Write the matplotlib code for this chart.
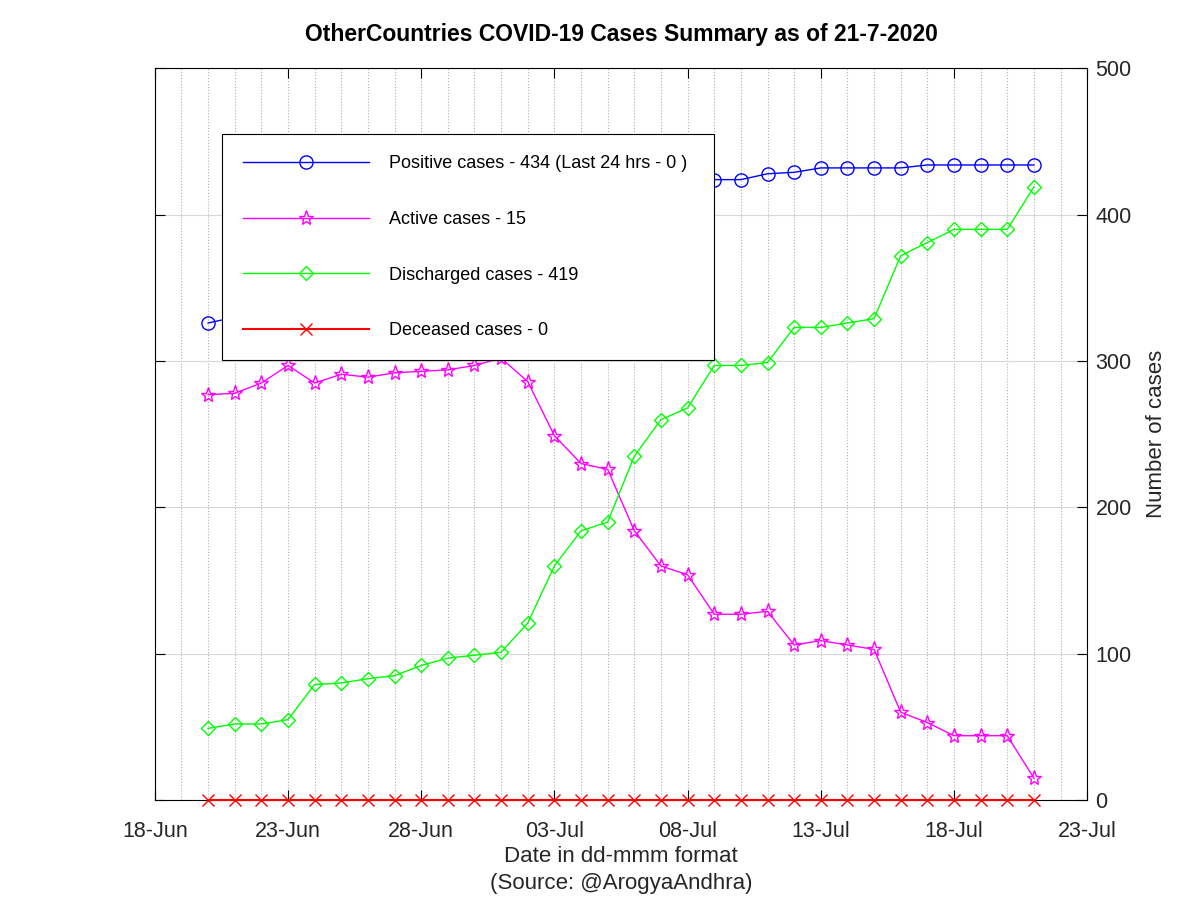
import matplotlib
matplotlib.use('Agg')
import matplotlib.pyplot as plt
import matplotlib.dates as mdates
import pandas as pd

plt.rcParams['font.family'] = ['Liberation Sans', 'DejaVu Sans']

dates = pd.date_range('2020-06-20', '2020-07-21', freq='D')

positive = [326, 330, 337, 352, 364, 371, 372, 377, 385, 391, 396, 403, 407, 409, 414, 416,
            419, 420, 422, 424, 424, 428, 429, 432, 432, 432, 432, 434, 434, 434, 434, 434]
active = [277, 278, 285, 297, 285, 291, 289, 292, 293, 294, 297, 302, 286, 249, 230, 226,
          184, 160, 154, 127, 127, 129, 106, 109, 106, 103, 60, 53, 44, 44, 44, 15]
discharged = [49, 52, 52, 55, 79, 80, 83, 85, 92, 97, 99, 101, 121, 160, 184, 190,
              235, 260, 268, 297, 297, 299, 323, 323, 326, 329, 372, 381, 390, 390, 390, 419]
deceased = [0] * 32

labels = ['Positive cases - 434 (Last 24 hrs - 0 )', 'Active cases - 15',
          'Discharged cases - 419', 'Deceased cases - 0']

fig = plt.figure(figsize=(12, 9), dpi=100)
ax = fig.add_axes([0.129, 0.111, 0.777, 0.813])

ax.plot(dates, positive, color='blue', lw=1, marker='o', ms=9.5, mfc='none', mew=1, label=labels[0])
ax.plot(dates, active, color='magenta', lw=1, marker='*', ms=11, mfc='none', mew=1, label=labels[1])
ax.plot(dates, discharged, color='lime', lw=1, marker='D', ms=7.5, mfc='none', mew=1, label=labels[2])
ax.plot(dates, deceased, color='red', lw=1.5, marker='x', ms=9, mew=1, label=labels[3], clip_on=False, zorder=5)

ax.set_xlim(pd.Timestamp('2020-06-18'), pd.Timestamp('2020-07-23'))
ax.set_ylim(0, 500)
ax.set_xticks(pd.date_range('2020-06-18', '2020-07-23', freq='5D'))
ax.xaxis.set_minor_locator(mdates.DayLocator())
ax.xaxis.set_major_formatter(mdates.DateFormatter('%d-%b'))
ax.set_yticks(range(0, 501, 100))

ax.yaxis.tick_right()
ax.yaxis.set_label_position('right')
ax.tick_params(axis='both', which='major', direction='in', length=7, labelsize=15.5,
               top=True, bottom=True, left=True, right=True, pad=6, labelcolor='#262626')
ax.tick_params(axis='x', which='major', pad=15)
ax.tick_params(axis='x', which='minor', length=0)

ax.grid(axis='x', which='both', color='#b0b0b0', ls=':', lw=0.8)
ax.grid(axis='y', which='major', color='#d8d8d8', ls='-', lw=0.8)
ax.set_axisbelow(True)
for s in ax.spines.values():
    s.set_linewidth(0.8)

ax.set_title('OtherCountries COVID-19 Cases Summary as of 21-7-2020', fontsize=16.5,
             fontweight='bold', pad=20)
ax.set_xlabel('Date in dd-mmm format\n(Source: @ArogyaAndhra)', fontsize=16, labelpad=3,
              linespacing=1.4, color='#262626')
ax.set_ylabel('Number of cases', fontsize=16, labelpad=10, color='#262626')

leg = ax.legend(loc='upper left', bbox_to_anchor=(0.0719, 0.0, 0.528, 0.910), mode='expand',
                fontsize=13, labelspacing=2.15, handlelength=7.0, handletextpad=1.1,
                borderpad=1.15, borderaxespad=0, fancybox=False, framealpha=1,
                edgecolor='black')
leg.get_frame().set_linewidth(0.8)

fig.savefig('out.png', dpi=100)
